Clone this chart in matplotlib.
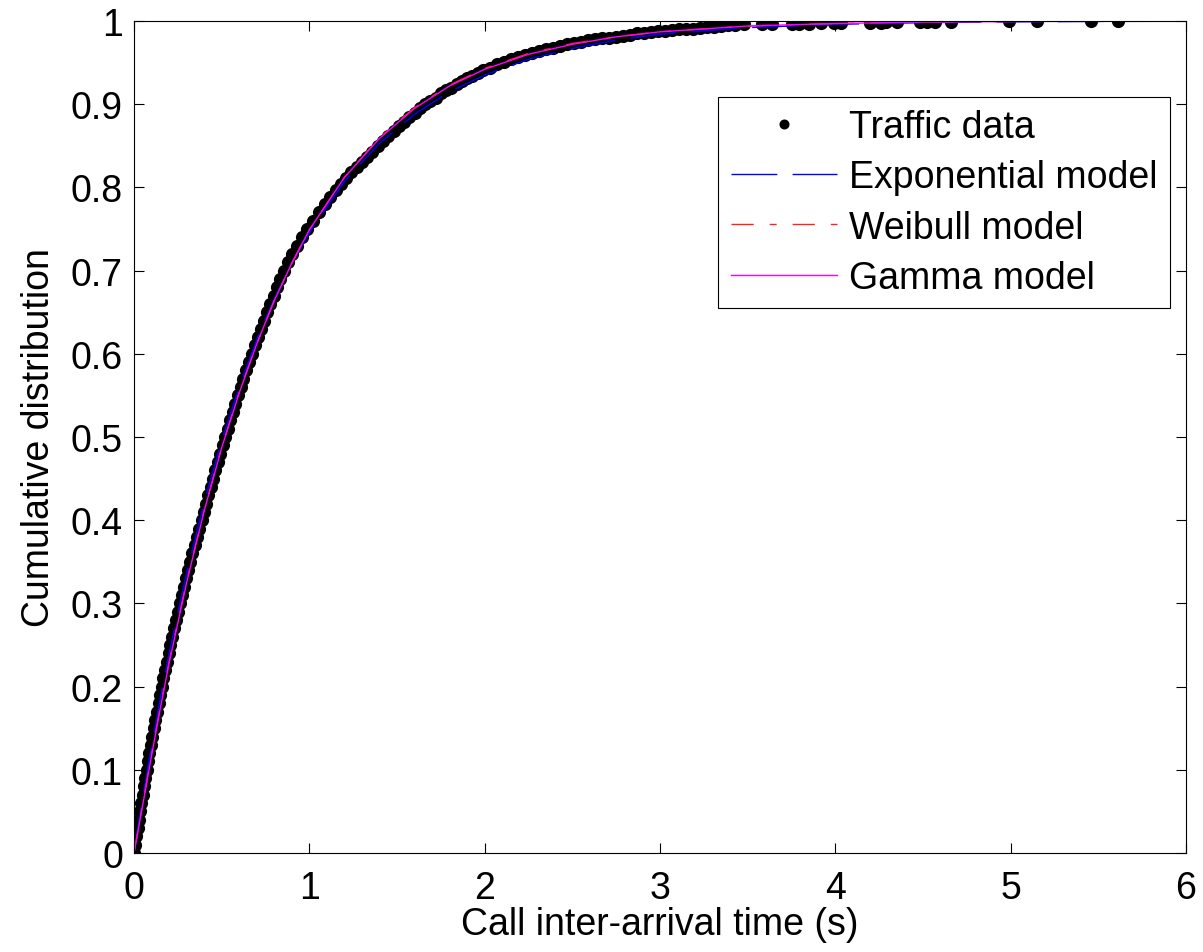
import matplotlib
matplotlib.use("Agg")
import matplotlib.pyplot as plt

data_x = [0.000, 0.007, 0.014, 0.021, 0.028, 0.035, 0.042, 0.049, 0.057, 0.064,
          0.072, 0.080, 0.088, 0.096, 0.104, 0.113, 0.122, 0.131, 0.140, 0.149,
          0.158, 0.168, 0.178, 0.187, 0.198, 0.208, 0.218, 0.229, 0.240, 0.251,
          0.262, 0.274, 0.285, 0.297, 0.309, 0.321, 0.333, 0.346, 0.359, 0.372,
          0.386, 0.398, 0.411, 0.424, 0.437, 0.450, 0.463, 0.477, 0.491, 0.506,
          0.520, 0.534, 0.548, 0.563, 0.578, 0.593, 0.608, 0.624, 0.640, 0.657,
          0.673, 0.690, 0.706, 0.724, 0.741, 0.759, 0.777, 0.796, 0.815, 0.835,
          0.855, 0.876, 0.901, 0.927, 0.956, 0.987, 1.020, 1.054, 1.090,
          1.12, 1.15, 1.18, 1.21, 1.24, 1.27, 1.30, 1.33, 1.36, 1.39,
          1.42, 1.45, 1.48, 1.51, 1.54, 1.57, 1.60, 1.63, 1.66, 1.69,
          1.72, 1.75, 1.78, 1.81, 1.84, 1.87, 1.90, 1.93, 1.96, 1.99,
          2.03, 2.07, 2.11, 2.15, 2.19, 2.23, 2.27, 2.31, 2.35, 2.39,
          2.43, 2.47, 2.51, 2.55, 2.59, 2.63, 2.67, 2.71, 2.75, 2.79,
          2.83, 2.87, 2.91, 2.95, 2.99, 3.03, 3.07, 3.11, 3.15, 3.19,
          3.23, 3.27, 3.31, 3.35, 3.39, 3.43,
          3.48, 3.58, 3.64, 3.75, 3.79, 3.85, 3.92, 3.99, 4.03, 4.20,
          4.26, 4.29, 4.35, 4.48, 4.52, 4.57, 4.66, 4.99, 5.15, 5.46, 5.61]
data_y = [0.00, 0.01, 0.02, 0.03, 0.04, 0.05, 0.06, 0.07, 0.08, 0.09,
          0.10, 0.11, 0.12, 0.13, 0.14, 0.15, 0.16, 0.17, 0.18, 0.19,
          0.20, 0.21, 0.22, 0.23, 0.24, 0.25, 0.26, 0.27, 0.28, 0.29,
          0.30, 0.31, 0.32, 0.33, 0.34, 0.35, 0.36, 0.37, 0.38, 0.39,
          0.40, 0.41, 0.42, 0.43, 0.44, 0.45, 0.46, 0.47, 0.48, 0.49,
          0.50, 0.51, 0.52, 0.53, 0.54, 0.55, 0.56, 0.57, 0.58, 0.59,
          0.60, 0.61, 0.62, 0.63, 0.64, 0.65, 0.66, 0.67, 0.68, 0.69,
          0.70, 0.71, 0.72, 0.73, 0.74, 0.75, 0.76, 0.77, 0.78,
          0.789, 0.797, 0.804, 0.811, 0.818, 0.825, 0.830, 0.836, 0.843, 0.850,
          0.856, 0.862, 0.868, 0.874, 0.879, 0.885, 0.890, 0.895, 0.900, 0.904,
          0.908, 0.913, 0.917, 0.920, 0.924, 0.928, 0.931, 0.934, 0.937, 0.941,
          0.944, 0.948, 0.951, 0.954, 0.957, 0.959, 0.962, 0.964, 0.966, 0.968,
          0.970, 0.972, 0.974, 0.975, 0.977, 0.978, 0.979, 0.980, 0.981, 0.982,
          0.983, 0.985, 0.986, 0.987, 0.988, 0.988, 0.989, 0.990, 0.991, 0.991,
          0.992, 0.993, 0.993, 0.994, 0.995, 0.995,
          0.996, 0.996, 0.997, 0.997, 0.997, 0.997, 0.998, 0.998, 0.998, 0.998,
          0.998, 0.999, 0.999, 0.999, 0.999, 0.999, 0.999, 0.9995, 0.9995, 0.9998, 1.0]

# fitted model CDFs
model_x = [0, 0.05, 0.1, 0.15, 0.2, 0.3, 0.4, 0.5, 0.6, 0.7, 0.8, 0.9, 1.0,
           1.2, 1.4, 1.6, 1.8, 2.0, 2.25, 2.5, 2.75, 3.0, 3.5, 4.0, 4.5,
           5.0, 5.5, 6.0]
expo_y = [0, 0.066, 0.128, 0.186, 0.240, 0.337, 0.422, 0.496, 0.560, 0.617,
          0.666, 0.709, 0.746, 0.807, 0.853, 0.888, 0.915, 0.935, 0.954,
          0.967, 0.977, 0.984, 0.992, 0.996, 0.998, 0.999, 0.9995, 0.9997]
weib_y = [0, 0.060, 0.119, 0.176, 0.230, 0.327, 0.412, 0.488, 0.554, 0.612,
          0.664, 0.709, 0.749, 0.812, 0.860, 0.896, 0.923, 0.943, 0.961,
          0.973, 0.981, 0.987, 0.994, 0.997, 0.999, 0.9995, 0.9998, 0.9999]
gamma_y = [0, 0.058, 0.117, 0.174, 0.228, 0.325, 0.411, 0.487, 0.553, 0.612,
           0.664, 0.709, 0.749, 0.812, 0.859, 0.895, 0.922, 0.942, 0.960,
           0.972, 0.981, 0.987, 0.994, 0.997, 0.9987, 0.9994, 0.9997, 0.9999]

x_ticks = [0, 1, 2, 3, 4, 5, 6]
y_ticks = [0, 0.1, 0.2, 0.3, 0.4, 0.5, 0.6, 0.7, 0.8, 0.9, 1]
y_ticklabels = ["0", "0.1", "0.2", "0.3", "0.4", "0.5", "0.6", "0.7", "0.8", "0.9", "1"]

plt.rcParams['font.family'] = ['Liberation Sans', 'DejaVu Sans']
plt.rcParams['font.size'] = 27
plt.rcParams['lines.scale_dashes'] = False

fig = plt.figure(figsize=(12.03, 9.53), dpi=100)
ax = fig.add_axes([0.1114, 0.1039, 0.8745, 0.873])

ax.plot(data_x, data_y, 'ko', markersize=9.5, markeredgewidth=0, label='Traffic data')
ax.plot(model_x, expo_y, color='blue', linewidth=1.0, dashes=(33, 11),
        label='Exponential model')
ax.plot(model_x, weib_y, color='#ff2020', linewidth=1.0, dashes=(16, 11.5, 5, 11.5),
        label='Weibull model')
ax.plot(model_x, gamma_y, color='#ff00ff', linewidth=1.0, label='Gamma model')

ax.set_xlim(0, 6)
ax.set_ylim(0, 1)
ax.set_xticks(x_ticks)
ax.set_yticks(y_ticks)
ax.set_yticklabels(y_ticklabels)
ax.tick_params(direction='in', length=7, width=0.8, top=True, right=True)
ax.tick_params(axis='x', pad=12)
ax.tick_params(axis='y', pad=8)
for s in ax.spines.values():
    s.set_linewidth(0.8)

ax.set_xlabel('Call inter-arrival time (s)', labelpad=0)
ax.set_ylabel('Cumulative distribution', labelpad=10)

leg = ax.legend(loc='upper right', bbox_to_anchor=(0.985, 0.909), numpoints=1,
                markerscale=0.76, fancybox=False, framealpha=1, edgecolor='black',
                handlelength=2.85, handletextpad=0.32, labelspacing=0.38,
                borderpad=0.33, borderaxespad=0)
leg.get_frame().set_linewidth(0.8)

fig.savefig('out.png', dpi=100)
